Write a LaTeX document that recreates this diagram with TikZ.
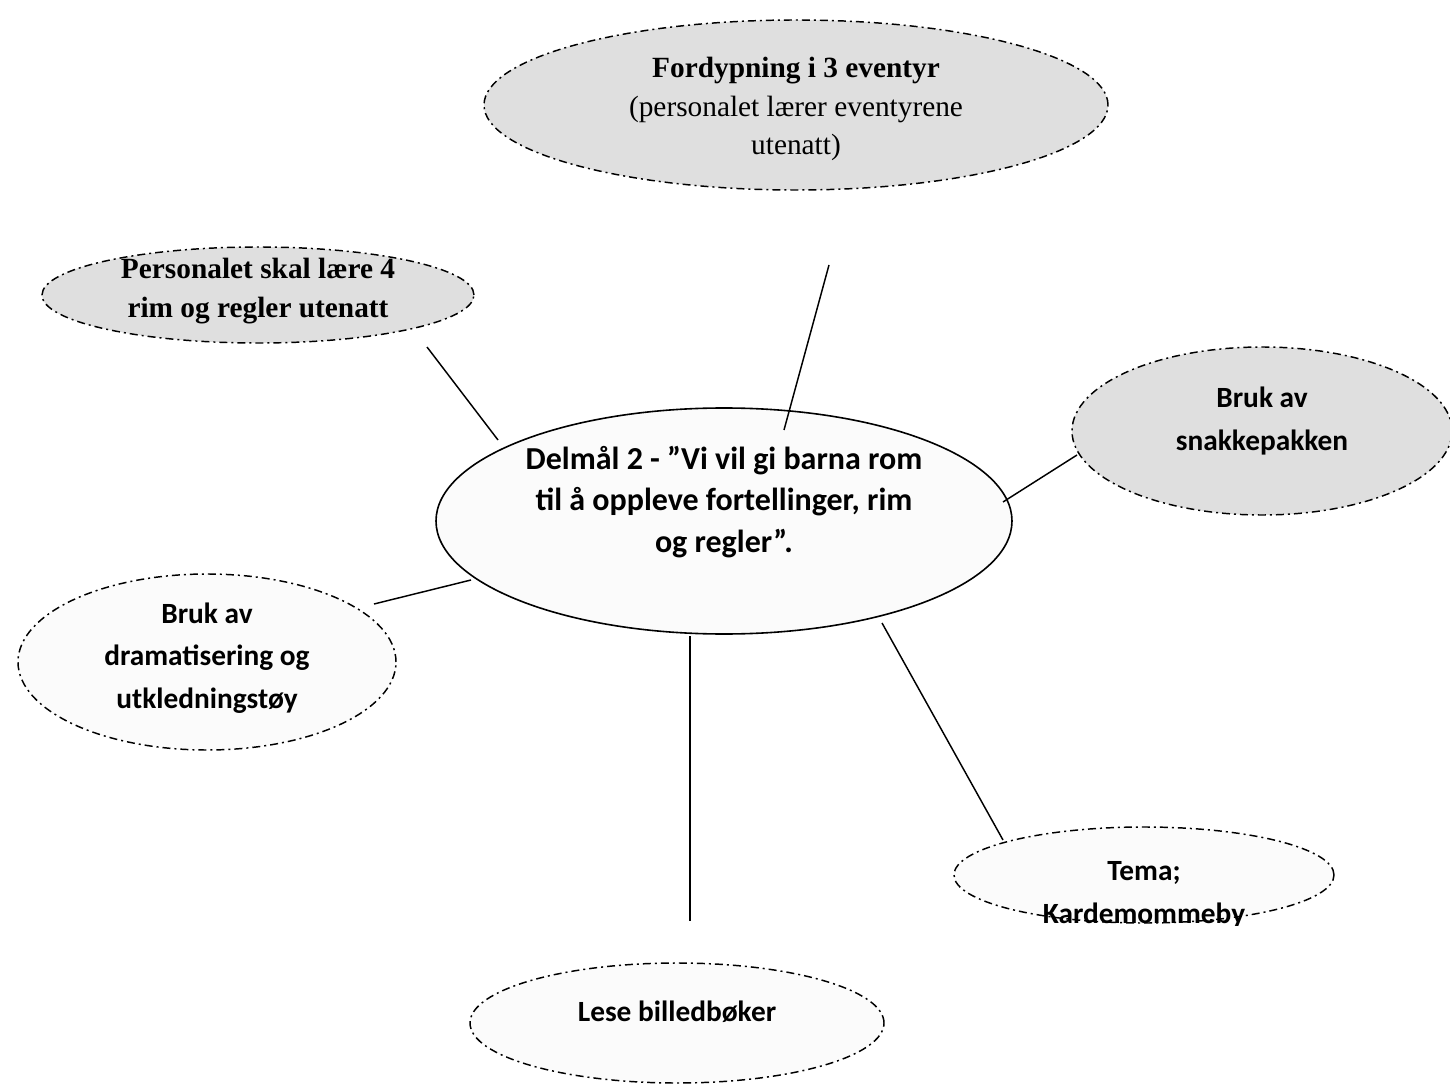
\documentclass[tikz,border=0pt]{standalone}
\usepackage{fontspec}
\setmainfont{Liberation Serif}
\newfontfamily\calfont{Carlito}
\usetikzlibrary{shapes.geometric}
\definecolor{graybub}{HTML}{DFDFDF}
\definecolor{whitebub}{HTML}{FBFBFB}
\begin{document}
\begin{tikzpicture}[x=0.75pt,y=-0.75pt,
  bubsize/.style 2 args={minimum width=#1*1.5pt, minimum height=#2*1.5pt},
  bub/.style={ellipse, draw, line width=1.1pt, dash pattern=on 6pt off 3pt on 1.5pt off 3pt, inner sep=0pt},
  gbub/.style={bub, fill=graybub},
  wbub/.style={bub, fill=whitebub},
  mainbub/.style={ellipse, draw, line width=1.2pt, fill=whitebub, inner sep=0pt},
  link/.style={line width=1.1pt},
  ctxt/.style={font=\calfont\bfseries\fontsize{22}{32}\selectfont, align=center, inner sep=0pt},
  mtxt/.style={font=\calfont\bfseries\fontsize{24}{31}\selectfont, align=center, inner sep=0pt},
  ttxt/.style={font=\fontsize{22}{29}\selectfont, align=center, inner sep=0pt}]
\fill[white] (0,0) rectangle (1450,1084);
\useasboundingbox (0,0) rectangle (1450,1084);

% bubbles
\node[gbub, bubsize={312}{85}] (fordyp) at (796,105) {};
\node[ttxt] (fordypT) at (796,109) {\textbf{Fordypning i 3 eventyr}\\(personalet lærer eventyrene\\utenatt)};

\node[gbub, bubsize={216}{48}] (pers) at (258,295) {};
\node[ttxt, font=\bfseries\fontsize{22}{29}\selectfont] (persT) at (258,291) {Personalet skal lære 4\\rim og regler utenatt};

\node[gbub, bubsize={190}{84}] (snakk) at (1262,431) {};
\node[ctxt] (snakkT) at (1262,421) {Bruk av\\snakkepakken};

\node[mainbub, bubsize={288}{113}] (delmal) at (724,521) {};
\node[mtxt] (delmalT) at (724,502) {Delmål 2 - ”Vi vil gi barna rom\\til å oppleve fortellinger, rim\\og regler”.};

\node[wbub, bubsize={189}{88}] (drama) at (207,662) {};
\node[ctxt] (dramaT) at (207,658) {Bruk av\\dramatisering og\\utkledningstøy};

\node[wbub, bubsize={190}{48}] (tema) at (1144,875) {};
\begin{scope}
\clip (940,815) rectangle (1345,925);
\node[ctxt] (temaT) at (1144,895) {Tema;\\Kardemommeby};
\end{scope}

\node[wbub, bubsize={207}{60}] (lese) at (677,1023) {};
\node[ctxt] (leseT) at (677,1012) {Lese billedbøker};

% connectors
\coordinate (c1a) at (829,265); \coordinate (c1b) at (784,430);
\coordinate (c2a) at (427,347); \coordinate (c2b) at (498,440);
\coordinate (c3a) at (1077,455); \coordinate (c3b) at (1003,502);
\coordinate (c4a) at (471,580); \coordinate (c4b) at (374,604);
\coordinate (c5a) at (690,636); \coordinate (c5b) at (690,921);
\coordinate (c6a) at (882,623); \coordinate (c6b) at (1003,840);
\draw[link] (c1a) -- (c1b);
\draw[link] (c2a) -- (c2b);
\draw[link] (c3a) -- (c3b);
\draw[link] (c4a) -- (c4b);
\draw[link] (c5a) -- (c5b);
\draw[link] (c6a) -- (c6b);
\end{tikzpicture}
\end{document}
